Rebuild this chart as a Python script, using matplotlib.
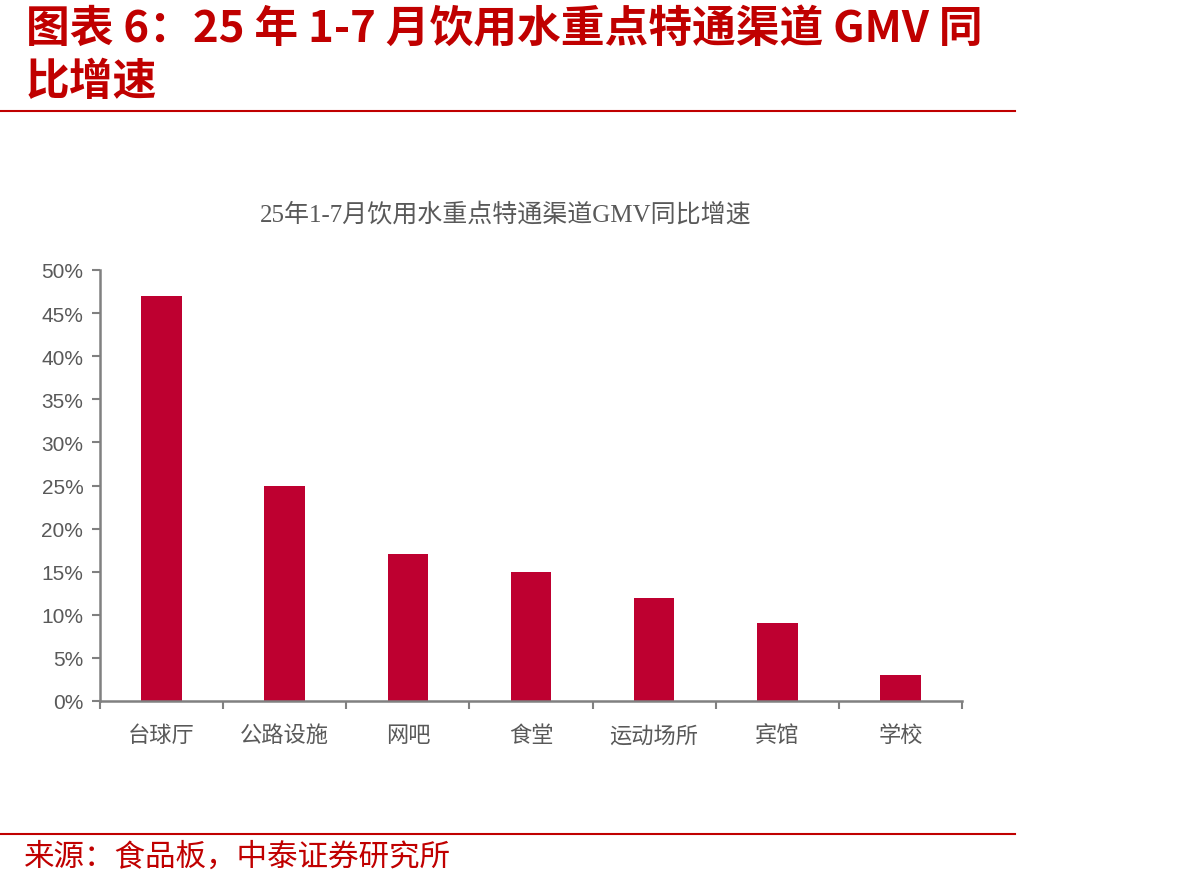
import matplotlib.pyplot as plt
import numpy as np

plt.rcParams['font.family'] = ['Noto Sans CJK SC', 'DejaVu Sans']

categories = ['台球厅', '公路设施', '网吧', '食堂', '运动场所', '宾馆', '学校']
growth = [0.47, 0.25, 0.17, 0.15, 0.12, 0.09, 0.03]
yticks = [0, 0.05, 0.10, 0.15, 0.20, 0.25, 0.30, 0.35, 0.40, 0.45, 0.50]
ytick_labels = ['0%', '5%', '10%', '15%', '20%', '25%', '30%', '35%', '40%', '45%', '50%']

W, H = 1192, 887
fig = plt.figure(figsize=(W / 100, H / 100), dpi=100)

red = '#C00000'
bar_color = '#BE0030'
gray = '#595959'
spine_gray = '#808080'

# header
fig.text(26 / W, 1 - 30 / H, '图表 6：25 年 1-7 月饮用水重点特通渠道 GMV 同', color=red,
         fontsize=31.5, fontweight='bold', style='italic', va='center', ha='left')
fig.text(26 / W, 1 - 82 / H, '比增速', color=red,
         fontsize=31.5, fontweight='bold', style='italic', va='center', ha='left')
fig.add_artist(plt.Line2D([0, 1015 / W], [1 - 112 / H, 1 - 112 / H], color=red, lw=1.5))

# footer
fig.add_artist(plt.Line2D([0, 1015 / W], [1 - 835 / H, 1 - 835 / H], color=red, lw=1.5))
fig.text(24 / W, 1 - 857 / H, '来源：食品板，中泰证券研究所', color=red,
         fontsize=22, va='center', ha='left')

# chart
ax = fig.add_axes([100 / W, 1 - 702 / H, (962 - 100) / W, (702 - 271) / H])
x = np.arange(len(categories))
ax.bar(x, growth, width=0.33, color=bar_color)
ax.set_xlim(-0.5, len(categories) - 0.5)
ax.set_ylim(0, 0.5)
ax.set_yticks(yticks)
ax.set_yticklabels(ytick_labels, family=['Liberation Sans', 'DejaVu Sans'])
ax.set_xticks(x)
ax.set_xticklabels(categories)
ax.set_xticks(np.arange(len(categories) + 1) - 0.5, minor=True)
ax.tick_params(axis='x', which='major', length=0, pad=16, labelsize=16, labelcolor=gray)
ax.tick_params(axis='x', which='minor', length=6, width=1.5, color=spine_gray, direction='out')
ax.tick_params(axis='y', length=6, width=1.5, color=spine_gray, labelsize=15,
               labelcolor=gray, pad=6)
for side in ['top', 'right']:
    ax.spines[side].set_visible(False)
for side in ['left', 'bottom']:
    ax.spines[side].set_color(spine_gray)
    ax.spines[side].set_linewidth(1.8)

fig.text(506 / W, 1 - 215 / H, '25年1-7月饮用水重点特通渠道GMV同比增速', color=gray,
         fontsize=18, va='center', ha='center',
         family=['Liberation Serif', 'Noto Sans CJK SC'])

fig.savefig('out.png', dpi=100)
